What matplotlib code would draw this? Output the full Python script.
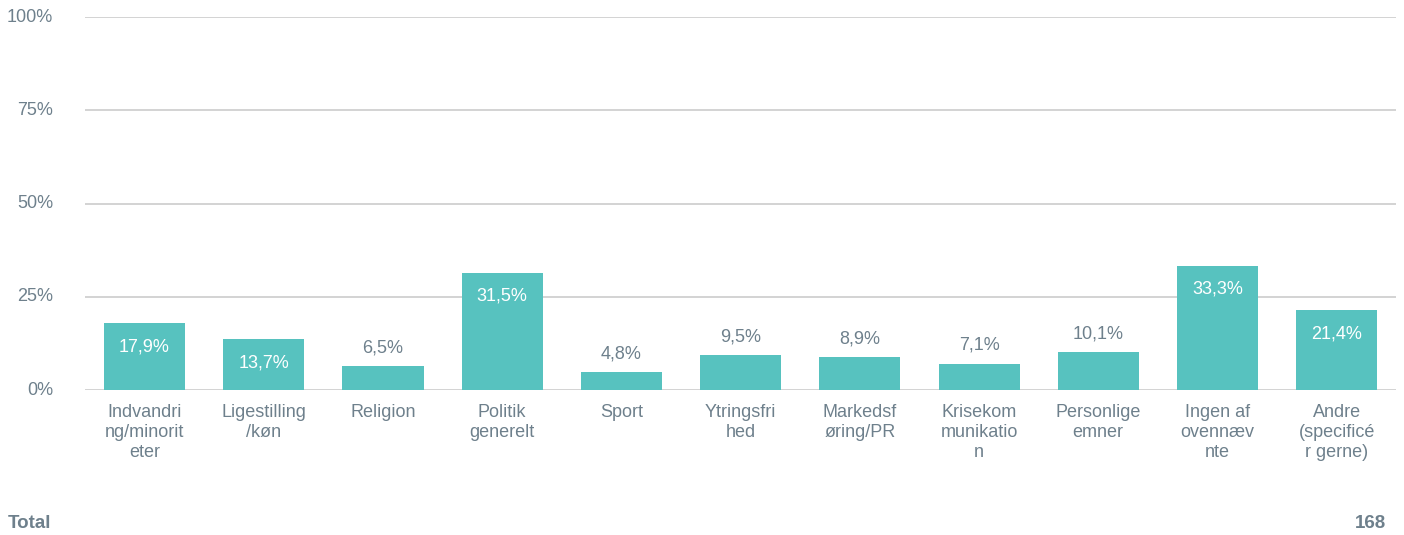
import matplotlib.pyplot as plt

plt.rcParams['font.family'] = ['Liberation Sans', 'DejaVu Sans']

categories = ['Indvandri\nng/minorit\neter', 'Ligestilling\n/køn', 'Religion', 'Politik\ngenerelt',
              'Sport', 'Ytringsfri\nhed', 'Markedsf\nøring/PR', 'Krisekom\nmunikatio\nn',
              'Personlige\nemner', 'Ingen af\novennæv\nnte', 'Andre\n(specificé\nr gerne)']
values = [17.9, 13.7, 6.5, 31.5, 4.8, 9.5, 8.9, 7.1, 10.1, 33.3, 21.4]
total = 168

text_color = '#6e808c'
bar_color = '#57c2bf'

fig = plt.figure(figsize=(14.04, 5.35), dpi=100)
ax = fig.add_axes([0.0605, 0.271, 0.934, 0.697])

x = range(len(values))
ax.bar(x, values, width=0.68, color=bar_color, zorder=3)

ax.set_xlim(-0.5, len(values) - 0.5)
ax.set_ylim(0, 100)
ax.set_yticks([0, 25, 50, 75, 100])
ax.set_yticklabels(['0%', '25%', '50%', '75%', '100%'])
ax.yaxis.grid(True, color='#d3d3d3', linewidth=1.4)
ax.set_axisbelow(True)
for s in ax.spines.values():
    s.set_visible(False)
ax.tick_params(axis='y', length=0, pad=23, labelsize=13, labelcolor=text_color)
ax.tick_params(axis='x', length=0, pad=10, labelsize=13, labelcolor=text_color)
ax.set_xticks(list(x))
ax.set_xticklabels(categories, linespacing=1.22)
for lbl in ax.get_yticklabels():
    lbl.set_verticalalignment('center')

for i, v in enumerate(values):
    label = f'{v:.1f}%'.replace('.', ',')
    if v >= 12:
        ax.annotate(label, (i, v), xytext=(0, -17), textcoords='offset points',
                    ha='center', va='center', color='white', fontsize=13, zorder=4)
    else:
        ax.annotate(label, (i, v), xytext=(0, 13), textcoords='offset points',
                    ha='center', va='center', color=text_color, fontsize=13, zorder=4)

fig.text(8 / 1404, 1 - 523 / 535, 'Total', fontsize=13.5, fontweight='bold',
         color=text_color, ha='left', va='center')
fig.text(1386 / 1404, 1 - 523 / 535, str(total), fontsize=13.5, fontweight='bold',
         color=text_color, ha='right', va='center')

fig.savefig('out.png', dpi=100)
